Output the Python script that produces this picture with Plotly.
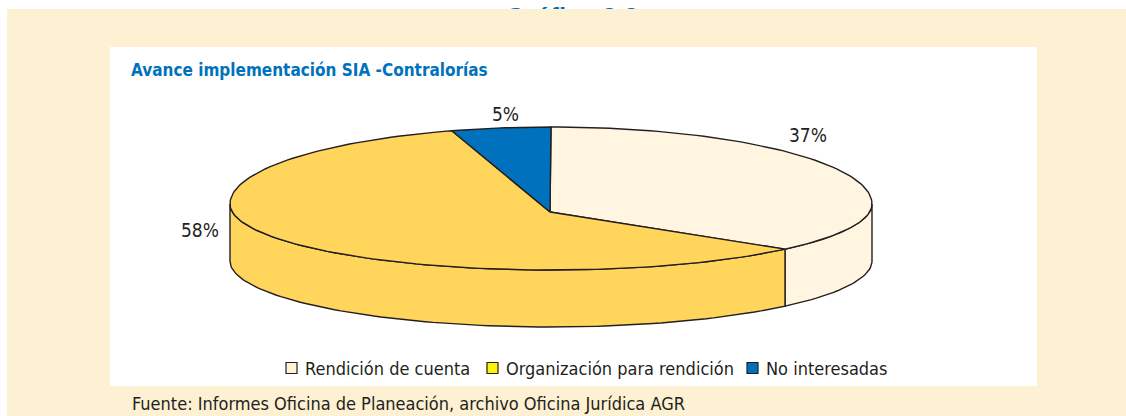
import math
import plotly.graph_objects as go

# ---------------- data ----------------
categories = ["Rendición de cuenta", "Organización para rendición", "No interesadas"]
values = [37, 58, 5]
value_labels = ["37%", "58%", "5%"]
top_colors = ["#FFF5E1", "#FFD55C", "#0071BC"]
legend_colors = ["#FFF3D6", "#FFF200", "#0071BC"]
label_pos = [(808, 135), (200, 230), (505, 114)]

chart_title = "Avance implementación SIA -Contralorías"
source_text = "Fuente: Informes Oficina de Planeación, archivo Oficina Jurídica AGR"
figure_title = "Gráfica 3.3"

# ---------------- geometry (layout) ----------------
W, H = 1126, 416
cx, cy = 551, 204          # ellipse centre of the top face
a, b_back, b_front = 321, 77, 66
vx, vy = 550, 212          # apex of slices on top face
depth = 57
OUT = "#231F20"
FONT = "DejaVu Sans Condensed, Liberation Sans Narrow, Arial Narrow, sans-serif"


def pt(theta_deg, dy=0.0):
    t = math.radians(theta_deg)
    c = math.cos(t)
    b = b_back if c > 0 else b_front
    return cx + a * math.sin(t), cy - b * c + dy


def arc(t0, t1, dy=0.0, n=None):
    if n is None:
        n = max(2, int(abs(t1 - t0) / 1.5) + 2)
    xs, ys = [], []
    for i in range(n):
        t = t0 + (t1 - t0) * i / (n - 1)
        x, y = pt(t, dy)
        xs.append(x)
        ys.append(y)
    return xs, ys


total = float(sum(values))
starts, ends = [], []
acc = 0.0
for v in values:
    starts.append(acc / total * 360.0)
    acc += v
    ends.append(acc / total * 360.0)

fig = go.Figure()

# figure title partially hidden by panel (drawn as trace text so panel strip can cover it)
fig.add_trace(go.Scatter(
    x=[572], y=[19.5], mode="text", text=[f"<b>{figure_title}</b>"],
    textfont=dict(family="Liberation Sans, Arial, sans-serif", size=26, color="#0072BC"),
    hoverinfo="skip", showlegend=False, cliponaxis=False))

# side walls (front half 90..270 deg)
for i in range(len(values)):
    t0, t1 = max(starts[i], 90.0), min(ends[i], 270.0)
    if t1 <= t0:
        continue
    xs, ys = arc(t0, t1)
    xb, yb = arc(t1, t0, dy=depth)
    fig.add_trace(go.Scatter(
        x=xs + xb + [xs[0]], y=ys + yb + [ys[0]], mode="lines", fill="toself",
        fillcolor=top_colors[i], line=dict(color=OUT, width=1.4),
        hoverinfo="skip", showlegend=False))

# top faces
for i in range(len(values)):
    xs, ys = arc(starts[i], ends[i])
    fig.add_trace(go.Scatter(
        x=[vx] + xs + [vx], y=[vy] + ys + [vy], mode="lines", fill="toself",
        fillcolor=top_colors[i], line=dict(color=OUT, width=1.4),
        hoverinfo="text", text=f"{categories[i]}: {value_labels[i]}", showlegend=False))

shapes = [
    dict(type="rect", xref="x", yref="y", x0=7, x1=W, y0=9, y1=H, layer="below",
         line=dict(width=0), fillcolor="#FEF0D3"),
    dict(type="rect", xref="x", yref="y", x0=110, x1=1037, y0=47, y1=386, layer="below",
         line=dict(width=0), fillcolor="#FFFFFF"),
    dict(type="rect", xref="x", yref="y", x0=7, x1=W, y0=9, y1=47, layer="above",
         line=dict(width=0), fillcolor="#FEF0D3"),
]

annotations = [
    dict(x=129, y=70, xref="x", yref="y", text=f"<b>{chart_title}</b>", showarrow=False,
         xanchor="left", yanchor="middle",
         font=dict(family="DejaVu Sans Condensed, Liberation Sans, sans-serif", size=17, color="#0072BC")),
    dict(x=130, y=403, xref="x", yref="y", text=source_text, showarrow=False,
         xanchor="left", yanchor="middle", font=dict(family=FONT, size=18, color="#231F20")),
]

for (lx, ly), txt in zip(label_pos, value_labels):
    annotations.append(dict(x=lx, y=ly, xref="x", yref="y", text=txt, showarrow=False,
                            xanchor="center", yanchor="middle",
                            font=dict(family=FONT, size=19, color="#231F20")))

# legend (manual)
leg_x = [286, 487, 747]
leg_y = 368
msz = 11
for i, lx in enumerate(leg_x):
    shapes.append(dict(type="rect", xref="x", yref="y", x0=lx, x1=lx + msz,
                       y0=leg_y - msz / 2, y1=leg_y + msz / 2,
                       line=dict(color=OUT, width=1.2), fillcolor=legend_colors[i]))
    annotations.append(dict(x=lx + msz + 6, y=leg_y, xref="x", yref="y", text=categories[i],
                            showarrow=False, xanchor="left", yanchor="middle",
                            font=dict(family=FONT, size=18, color="#231F20")))

fig.update_layout(
    width=W, height=H, autosize=False,
    margin=dict(l=0, r=0, t=0, b=0),
    paper_bgcolor="#FFFFFF", plot_bgcolor="#FFFFFF",
    xaxis=dict(range=[0, W], visible=False, fixedrange=True),
    yaxis=dict(range=[H, 0], visible=False, fixedrange=True),
    shapes=shapes, annotations=annotations, showlegend=False,
)

fig.write_html("out.html", config={"displayModeBar": False},
               post_script="document.body.style.margin='0';document.body.style.overflow='hidden';")
